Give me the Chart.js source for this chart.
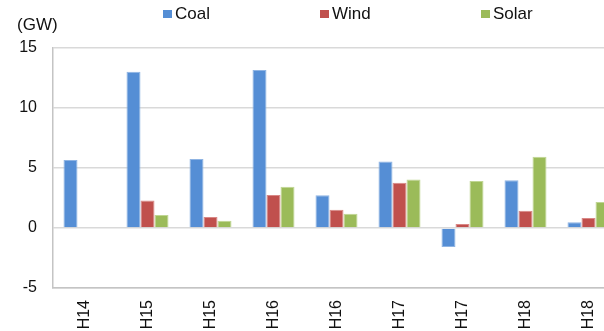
<!DOCTYPE html>
<html>
<head>
<meta charset="utf-8">
<script src="https://cdn.jsdelivr.net/npm/chart.js@4.4.0/dist/chart.umd.min.js"></script>
<style>
    body { margin: 0; overflow: hidden; background: #fff; font-family: "Liberation Sans", Arial, sans-serif; color: #111; }
    #wrap { position: relative; width: 620px; height: 331px; }
    #unit { position: absolute; left: 17px; top: 15px; font-size: 17px; }
    .key { position: absolute; top: 4px; font-size: 17px; white-space: nowrap; }
    .key i { display: inline-block; width: 9px; height: 8px; margin-right: 3px; vertical-align: 1px; }
</style>
</head>
<body>
<div id="wrap">
    <canvas id="myChart" width="620" height="331"></canvas>
    <div id="unit">(GW)</div>
    <div id="legend"></div>
</div>
<script>
// generation additions per half-year, GW
var LABELS = ['H14', 'H15', 'H15', 'H16', 'H16', 'H17', 'H17', 'H18', 'H18'];
var COAL = [5.67, 13.03, 5.75, 13.17, 2.72, 5.55, -1.58, 3.97, 0.47];
var WIND = [null, 2.3, 0.92, 2.75, 1.53, 3.78, 0.33, 1.44, 0.83];
var SOLAR = [null, 1.08, 0.6, 3.44, 1.19, 4.05, 3.92, 5.94, 2.17];

var SERIES = [
    { label: 'Coal', data: COAL, color: '#558ed5', edge: '#8fb4e3' },
    { label: 'Wind', data: WIND, color: '#c0504d', edge: '#d98886' },
    { label: 'Solar', data: SOLAR, color: '#9bbb59', edge: '#c0d693' }
];
var LEGEND_X = [163, 320, 481];

// legend sits in evenly spaced columns, so it is built by hand
var legend = document.getElementById('legend');
SERIES.forEach(function (s, i) {
    var item = document.createElement('div');
    item.className = 'key';
    item.style.left = LEGEND_X[i] + 'px';
    item.innerHTML = '<i style="background:' + s.color + '"></i>' + s.label;
    legend.appendChild(item);
});

const ctx = document.getElementById('myChart').getContext('2d');
const myChart = new Chart(ctx, {
    type: 'bar',
    data: {
        labels: LABELS,
        datasets: SERIES.map(function (s) {
            return {
                label: s.label,
                data: s.data,
                backgroundColor: s.color,
                borderColor: s.edge,
                borderWidth: 1,
                categoryPercentage: 0.667,
                barPercentage: 1.0
            };
        })
    },
    options: {
        responsive: false,
        animation: false,
        layout: { padding: { top: 48, left: 0, right: 0, bottom: 0 } },
        plugins: {
            legend: { display: false },
            tooltip: { enabled: false }
        },
        scales: {
            x: {
                grid: { display: false, drawTicks: false },
                border: { display: true, color: '#c4c4c4', width: 1.5 },
                ticks: {
                    color: '#111',
                    font: { family: '"Liberation Sans", Arial, sans-serif', size: 16 },
                    minRotation: 90,
                    maxRotation: 90,
                    padding: 12
                },
                afterFit: function (scale) { scale.height = 43; }
            },
            y: {
                min: -5,
                max: 15,
                grid: { color: '#d9d9d9', lineWidth: 1.5, drawTicks: false },
                border: { display: true, color: '#c4c4c4', width: 1.5 },
                ticks: {
                    stepSize: 5,
                    color: '#111',
                    font: { family: '"Liberation Sans", Arial, sans-serif', size: 16 },
                    padding: 16
                },
                afterFit: function (scale) { scale.width = 53; }
            }
        }
    }
});
</script>
</body>
</html>
